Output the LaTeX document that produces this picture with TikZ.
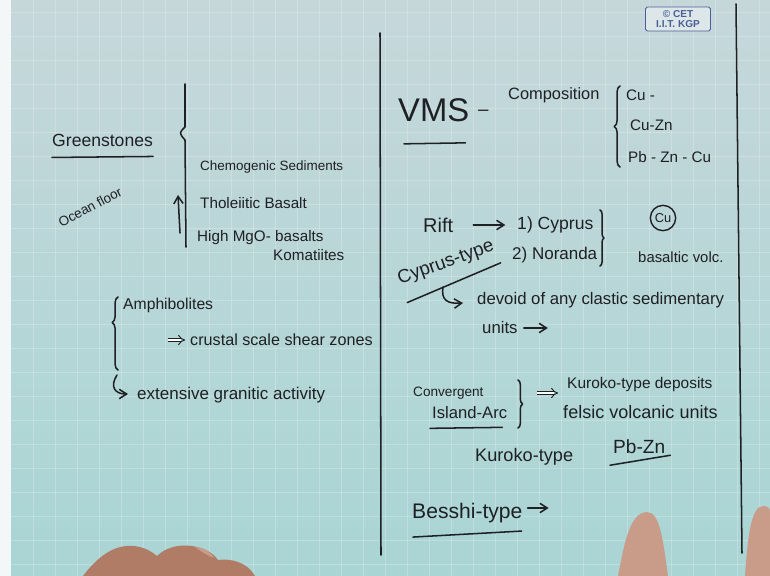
\documentclass[tikz,border=0pt]{standalone}
\usepackage{fontspec}
\setmainfont{Liberation Sans}
\usetikzlibrary{arrows.meta,decorations.pathreplacing,calc}

\definecolor{papertop}{HTML}{C6D7DA}
\definecolor{papermid}{HTML}{B6D5D7}
\definecolor{paperlow}{HTML}{A9D5D4}
\definecolor{ink}{HTML}{1E2024}
\definecolor{logoblue}{HTML}{4B5E96}
\definecolor{skin}{HTML}{B07C66}
\definecolor{skinlight}{HTML}{C99C8A}

\begin{document}
\begin{tikzpicture}[
        x=0.3mm, y=-0.3mm,
        hw/.style={font=\fontsize{#1}{#1}\selectfont, text=ink, inner sep=0pt, anchor=west},
        hw/.default=13,
        pen/.style={draw=ink, line width=1.3pt, line cap=round, line join=round},
        arr/.style={pen, -{Straight Barb[length=2.2mm, width=2.8mm]}},
        dbl/.style={draw=ink, line width=0.8pt, double, double distance=2.2pt, -{Implies}},
        curly/.style={pen, decorate, decoration={brace, amplitude=#1}},
        curly/.default=5pt,
        gridline/.style={white, opacity=0.22, line width=0.6pt},
    ]

    % Paper
    \useasboundingbox (0,0) rectangle (770,576);
    \shade[top color=papertop, middle color=papermid, bottom color=paperlow] (0,0) rectangle (770,576);
    \fill[white!80!papertop] (0,0) rectangle (11,576);
    \foreach \gx in {33,55,...,770} {
        \draw[gridline] (\gx,0) -- (\gx,576);
    }
    \foreach \gy in {12,36,...,576} {
        \draw[gridline] (11,\gy) -- (770,\gy);
    }

    % Page rules
    \draw[pen] (380,33) -- (381,555);
    \draw[pen] (736,4) -- (742,553);

    % Logo
    \node[draw=logoblue, line width=0.8pt, rounded corners=1.5pt, fill=papertop!60!white,
          text=logoblue, font=\fontsize{8.6}{9.2}\selectfont\bfseries, align=center,
          inner sep=1pt, minimum width=19.5mm, minimum height=7.2mm] (logo) at (678,19) {\copyright\ CET\\I.I.T. KGP};

    % Greenstones
    \node[hw=15] (green) at (52,140) {Greenstones};
    \draw[pen] ($(green.south west)+(0,11)$) -- ($(green.south east)+(0,10)$);
    \node[hw=11.5, rotate=28, anchor=center] (ocean) at (90,207) {Ocean floor};

    \draw[pen] (185,84) -- (185,127) .. controls (179,133) .. (185,140) -- (186,247);
    \node[hw=11.5] (chemo) at (200,167) {Chemogenic Sediments};
    \node[hw=13] (thol) at (200,203) {Tholeiitic Basalt};
    \node[hw=13] (mgo) at (197,238) {High MgO-};
    \node[hw=13] (basalts) at (275,236) {basalts};
    \node[hw=13] (koma) at (273,255) {Komatiites};
    \coordinate (upfoot) at (180,233);
    \coordinate (uptip) at (178,195);
    \draw[arr] (upfoot) -- (uptip);

    % Amphibolites
    \draw[curly=5pt, decoration={aspect=0.65}] (118,370) -- (118,297);
    \node[hw=13.4] (amph) at (123,305) {Amphibolites};
    \node[hw=13.8] (crust) at (190,340) {crustal scale shear zones};
    \draw[dbl] ($(crust.west)+(-22,0)$) -- ($(crust.west)+(-5,0)$);
    \node[hw=14.5] (ext) at (137,395) {extensive granitic activity};
    \coordinate (hookA) at (117,375);
    \draw[arr] (hookA) .. controls (110,386) and (114,394) .. ($(ext.west)+(-9,-1)$);

    % VMS
    \node[hw=28] (vms) at (398,110) {VMS};
    \draw[pen] ($(vms.south west)+(6,22)$) -- ($(vms.south east)+(-4,21)$);
    \node[hw=16] (dash) at (478,113) {–};
    \node[hw=14] (comp) at (508,95) {Composition};
    \draw[curly=5pt] (620,167) -- (620,86);
    \node[hw=13] (cu) at (626,95) {Cu -};
    \node[hw=13] (cuzn) at (630,125) {Cu-Zn};
    \node[hw=13] (pbzncu) at (628,157) {Pb - Zn - Cu};

    % Rift types
    \node[hw=17] (rift) at (423,225) {Rift};
    \node[hw=15] (cyp) at (517,225) {1) Cyprus};
    \node[hw=14.5] (nor) at (512,255) {2) Noranda};
    \draw[arr, shorten <=6mm, shorten >=3.5mm] (rift.east) -- (cyp.west);
    \draw[curly=3.5pt] (600,210) -- (600,266);
    \node[hw=11, circle, draw=ink, line width=1.2pt, minimum size=7.6mm, anchor=center] (cucirc) at (663,218) {Cu};
    \node[hw=12.7] (basv) at (638,257) {basaltic volc.};

    \node[hw=16, rotate=20, anchor=center] (cyptype) at (446,263) {Cyprus-type};
    \draw[pen] ($(cyptype.south west)+(6,14)$) -- ($(cyptype.south east)+(4,9)$);
    \node[hw=14.3] (devoid) at (477,300) {devoid of any clastic sedimentary};
    \node[hw=14.3] (units) at (482,328) {units};
    \coordinate (hookB) at (443,287);
    \draw[arr] (hookB) .. controls (441,300) and (447,304) .. ($(devoid.west)+(-14,3)$);
    \draw[arr] ($(units.east)+(6,0)$) -- ++(24,0);

    % Island arc
    \node[hw=11.6] (conv) at (413,393) {Convergent};
    \node[hw=14.2] (isl) at (432,413) {Island-Arc};
    \draw[pen] ($(isl.south west)+(-2,9)$) -- ($(isl.south east)+(-5,8)$);
    \draw[curly=4pt] (518,380) -- (518,428);
    \node[hw=13.2] (kur) at (567,385) {Kuroko-type deposits};
    \node[hw=15.4] (fels) at (563,412) {felsic volcanic units};
    \draw[dbl] ($(kur.west)+(-30,8)$) -- ($(kur.west)+(-9,8)$);
    \node[hw=15.5] (kurtype) at (475,457) {Kuroko-type};
    \node[hw=16.3] (pbzn) at (613,447) {Pb-Zn};
    \draw[pen] ($(pbzn.south west)+(-3,11)$) -- ($(pbzn.south east)+(5,1)$);

    % Besshi
    \node[hw=18] (besshi) at (412,513) {Besshi-type};
    \draw[pen] ($(besshi.south west)+(1,14)$) -- ($(besshi.south east)+(-1,8)$);
    \draw[arr] ($(besshi.east)+(5,-5)$) -- ++(21,0);

    % Hands
    \fill[skin] (83,576) .. controls (95,560) and (110,547) .. (127,546)
        .. controls (140,545) and (150,550) .. (157,556)
        .. controls (165,548) and (178,544) .. (192,546)
        .. controls (205,548) and (213,553) .. (218,560)
        .. controls (232,558) and (248,563) .. (255,576) -- cycle;
    \fill[skinlight] (195,547) .. controls (205,548) and (211,552) .. (214,558) .. controls (208,556) and (202,552) .. cycle;
    \fill[skinlight] (618,576) .. controls (625,540) and (630,513) .. (647,512)
        .. controls (660,512) and (663,540) .. (668,576) -- cycle;
    \fill[skinlight] (745,576) .. controls (748,530) and (752,507) .. (763,506)
        .. controls (768,506) and (770,508) .. (770,512) -- (770,576) -- cycle;

\end{tikzpicture}
\end{document}
